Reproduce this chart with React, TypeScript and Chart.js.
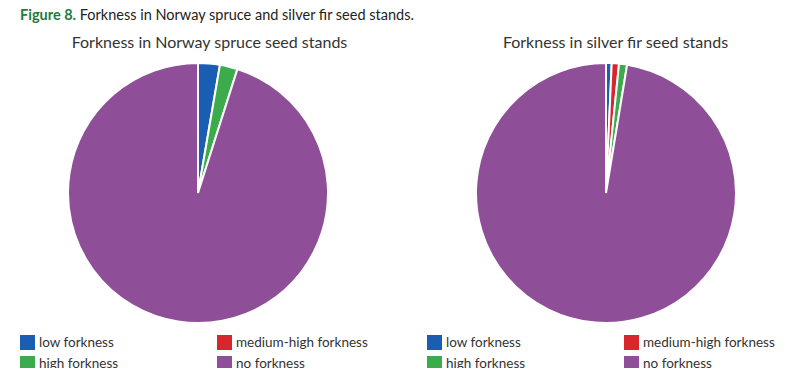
import React, { useEffect, useRef } from "react";
import { Chart, registerables } from "chart.js";

Chart.register(...registerables);

const categories = ["low forkness", "medium-high forkness", "high forkness", "no forkness"];
const colors = ["#1A5DB2", "#D9262E", "#3CAB4B", "#8F4E98"];
const spruceValues = [2.7, 0, 2.2, 95.1];
const firValues = [0.7, 0.9, 1.0, 97.4];
const captionLabel = "Figure 8.";
const captionText = " Forkness in Norway spruce and silver fir seed stands.";
const spruceTitle = "Forkness in Norway spruce seed stands";
const firTitle = "Forkness in silver fir seed stands";

const FONT = "Lato, 'Open Sans', sans-serif";

function Pie({ values, left }: { values: number[]; left: number }) {
  const ref = useRef<HTMLCanvasElement | null>(null);
  useEffect(() => {
    if (!ref.current) return;
    const chart = new Chart(ref.current, {
      type: "pie",
      data: {
        labels: categories,
        datasets: [
          {
            data: values,
            backgroundColor: colors,
            borderColor: "#ffffff",
            borderWidth: 2,
            hoverBorderWidth: 2,
          },
        ],
      },
      options: {
        animation: false,
        responsive: false,
        maintainAspectRatio: false,
        layout: { padding: 0 },
        plugins: {
          legend: { display: false },
          title: { display: false },
          tooltip: { enabled: false },
        },
      },
    });
    return () => chart.destroy();
  }, [values]);
  return (
    <canvas
      ref={ref}
      width={262}
      height={262}
      style={{ position: "absolute", left, top: 62, width: 262, height: 262 }}
    />
  );
}

function Legend({ left }: { left: number }) {
  const cols = [0, 197];
  const rows = [335, 356];
  return (
    <>
      {categories.map((c, i) => {
        const col = i % 2;
        const row = Math.floor(i / 2);
        return (
          <div
            key={c}
            style={{
              position: "absolute",
              left: left + cols[col],
              top: rows[row],
              display: "flex",
              alignItems: "center",
              height: 15,
              whiteSpace: "nowrap",
            }}
          >
            <div style={{ width: 15, height: 15, background: colors[i], marginRight: 4 }} />
            <span style={{ fontFamily: FONT, fontSize: 13.5, color: "#333", lineHeight: "15px" }}>{c}</span>
          </div>
        );
      })}
    </>
  );
}

export default function App() {
  const titleStyle: React.CSSProperties = {
    position: "absolute",
    top: 32,
    textAlign: "center",
    fontFamily: FONT,
    fontSize: 16,
    lineHeight: "20px",
    color: "#333",
    whiteSpace: "nowrap",
  };
  return (
    <div
      style={{
        position: "absolute",
        left: 0,
        top: 0,
        width: 800,
        height: 368,
        overflow: "hidden",
        background: "#fff",
      }}
    >
      <div
        style={{
          position: "absolute",
          left: 20,
          top: 6,
          fontFamily: FONT,
          fontSize: 14.5,
          lineHeight: "17px",
          color: "#222",
          whiteSpace: "nowrap",
        }}
      >
        <span style={{ color: "#1C7C3C", fontWeight: "bold" }}>{captionLabel}</span>
        {captionText}
      </div>
      <div style={{ ...titleStyle, left: 0, width: 419 }}>{spruceTitle}</div>
      <div style={{ ...titleStyle, left: 431, width: 369 }}>{firTitle}</div>
      <Pie values={spruceValues} left={67} />
      <Pie values={firValues} left={475} />
      <Legend left={20} />
      <Legend left={427} />
    </div>
  );
}
